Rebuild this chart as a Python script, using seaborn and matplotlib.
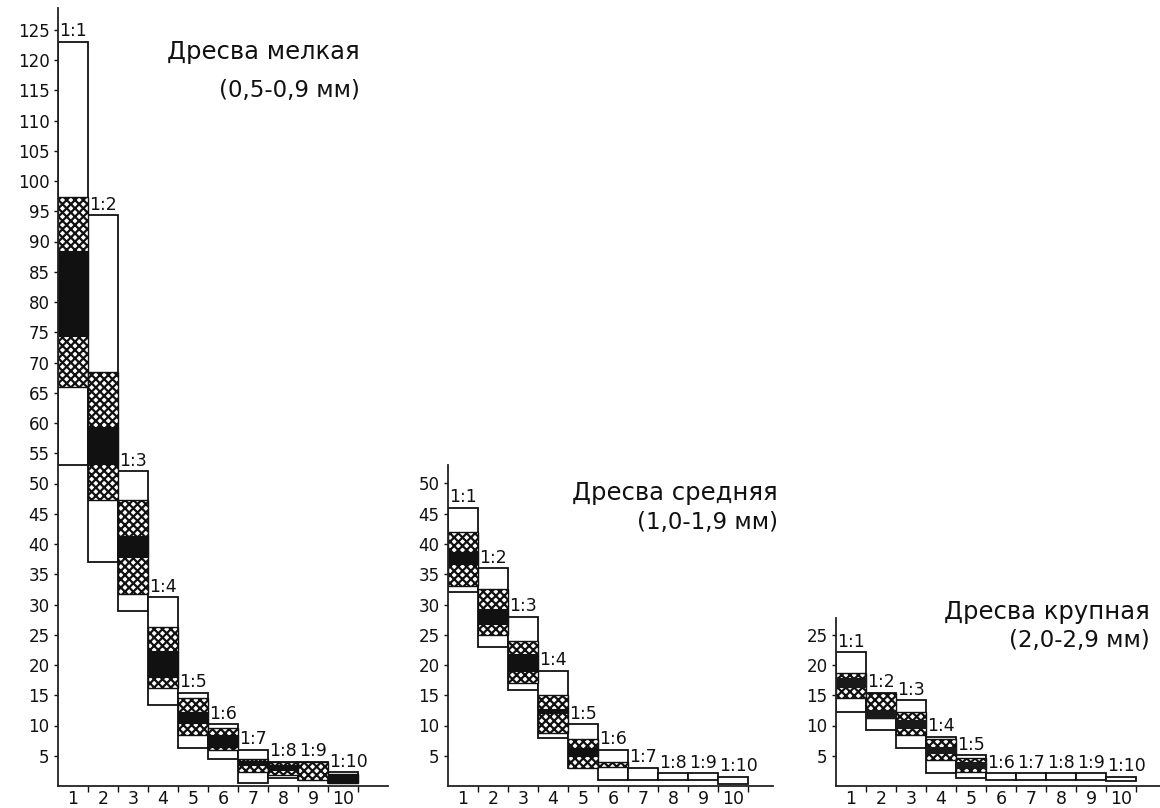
import matplotlib
matplotlib.use("Agg")
import matplotlib.pyplot as plt
import seaborn as sns
import numpy as np

sns.set_theme(style="ticks")
plt.rcParams['font.family'] = ['DejaVu Sans']
plt.rcParams['hatch.linewidth'] = 1.6

CATS = [str(i) for i in range(1, 11)]
RATIOS = ["1:%d" % i for i in range(1, 11)]

# ---- Дресва мелкая (0,5-0,9 мм)
fine_outer_lo = [53, 37, 29, 13.4, 6.3, 4.5, 0.5, 1.3, 1.0, 0.5]
fine_outer_hi = [123, 94.3, 52, 31.2, 15.4, 10.2, 6.0, 4.0, 4.0, 2.3]
fine_hatch_lo = [66, 47.3, 31.8, 16.2, 8.4, 5.9, 2.3, 1.8, 1.0, 0.5]
fine_hatch_hi = [97.3, 68.4, 47.2, 26.3, 14.5, 9.6, 4.5, 4.0, 4.0, 2.0]
fine_black_lo = [74.4, 53.2, 37.8, 18.0, 10.4, 6.4, 3.5, 2.6, None, 0.5]
fine_black_hi = [88.5, 59.3, 41.3, 22.3, 12.2, 8.4, 4.2, 3.5, None, 1.8]

# ---- Дресва средняя (1,0-1,9 мм)
med_outer_lo = [32, 23, 15.8, 7.9, 3.0, 1.0, 1.0, 1.0, 1.0, 0.3]
med_outer_hi = [46, 36, 28, 19, 10.2, 6.0, 3.0, 2.1, 2.1, 1.5]
med_hatch_lo = [33.1, 24.9, 17.0, 8.7, 3.0, 3.1, None, None, None, None]
med_hatch_hi = [42.0, 32.6, 23.9, 15.0, 7.7, 4.0, None, None, None, None]
med_black_lo = [36.7, 26.7, 19.0, 12.0, 5.0, None, None, None, None, None]
med_black_hi = [38.7, 29.3, 21.9, 12.8, 6.3, None, None, None, None, None]

# ---- Дресва крупная (2,0-2,9 мм)
coarse_outer_lo = [12.2, 9.3, 6.3, 2.1, 1.3, 1.0, 1.0, 1.0, 1.0, 0.8]
coarse_outer_hi = [22.1, 15.4, 14.2, 8.1, 5.1, 2.1, 2.1, 2.1, 2.1, 1.5]
coarse_hatch_lo = [14.5, 11.2, 8.4, 4.3, 2.3, None, None, None, None, None]
coarse_hatch_hi = [18.7, 15.4, 12.2, 7.8, 4.6, None, None, None, None, None]
coarse_black_lo = [16.4, 11.2, 9.6, 5.5, 3.0, None, None, None, None, None]
coarse_black_hi = [17.8, 12.6, 10.9, 6.5, 4.0, None, None, None, None, None]

TITLES = [("Дресва мелкая", "(0,5-0,9 мм)"),
          ("Дресва средняя", "(1,0-1,9 мм)"),
          ("Дресва крупная", "(2,0-2,9 мм)")]

W, H = 1160, 808
fig = plt.figure(figsize=(W / 100, H / 100), dpi=100)
fig.patch.set_facecolor("white")

PXU = 6.05  # pixels per unit (shared y scale)
BOTTOM_PX = 786
BAR_PX = 30.0


def make_ax(left_px, right_px, top_px):
    ax = fig.add_axes([left_px / W, 1 - BOTTOM_PX / H,
                       (right_px - left_px) / W, (BOTTOM_PX - top_px) / H])
    return ax


def layer(ax, lo, hi, **kw):
    idx = [i for i in range(10) if lo[i] is not None]
    cats = [CATS[i] for i in idx]
    heights = [hi[i] - lo[i] for i in idx]
    bottoms = [lo[i] for i in idx]
    sns.barplot(x=cats, y=heights, order=CATS, bottom=bottoms, width=1.0,
                errorbar=None, saturation=1, ax=ax, **kw)


panels = [
    (58, 388, 8, 125, fine_outer_lo, fine_outer_hi, fine_hatch_lo, fine_hatch_hi,
     fine_black_lo, fine_black_hi, (360, 52, 90)),
    (448, 773, 465, 50, med_outer_lo, med_outer_hi, med_hatch_lo, med_hatch_hi,
     med_black_lo, med_black_hi, (778, 493, 522)),
    (836, 1160, 618, 25, coarse_outer_lo, coarse_outer_hi, coarse_hatch_lo, coarse_hatch_hi,
     coarse_black_lo, coarse_black_hi, (1150, 612, 641)),
]

for k, (lpx, rpx, tpx, ymax_tick, olo, ohi, hlo, hhi, blo, bhi, tpos) in enumerate(panels):
    ax = make_ax(lpx, rpx, tpx)
    ax.set_facecolor("none")
    layer(ax, olo, ohi, color="white", edgecolor="#111111", linewidth=1.3)
    layer(ax, hlo, hhi, color="white", edgecolor="#111111", linewidth=1.0, hatch="xxxx")
    dark = "#111111" if k < 2 else "#1a1a1a"
    layer(ax, blo, bhi, color=dark, edgecolor=dark, linewidth=0.8)

    ax.set_xlim(-0.5, -0.5 + (rpx - lpx) / BAR_PX)
    ax.set_ylim(0, (BOTTOM_PX - tpx) / PXU)
    ax.set_xlabel("")
    ax.set_ylabel("")
    ax.set_xticks(range(10))
    ax.set_xticklabels(CATS)
    ax.set_xticks(np.arange(0.5, 10.0, 1.0), minor=True)
    ax.set_yticks(np.arange(5, ymax_tick + 1, 5))
    ax.tick_params(axis="x", which="major", length=0, labelsize=12.5, pad=3, colors="#111111")
    ax.tick_params(axis="x", which="minor", length=4, width=1, direction="out", colors="#111111")
    ax.tick_params(axis="y", which="major", length=3, width=1, direction="out",
                   labelsize=12, pad=3, colors="#111111")
    for s in ("top", "right"):
        ax.spines[s].set_visible(False)
    for s in ("left", "bottom"):
        ax.spines[s].set_linewidth(1.3)
        ax.spines[s].set_color("#222222")
    ax.grid(False)

    for i in range(10):
        ax.annotate(RATIOS[i], xy=(i - 0.5, ohi[i]), xytext=(1, 4),
                    textcoords="offset points", ha="left", va="baseline",
                    fontsize=12.5, color="#111111", annotation_clip=False)

    xr, y1, y2 = tpos
    fig.text(xr / W, 1 - y1 / H, TITLES[k][0], ha="right", va="center",
             fontsize=17.5, color="#111111")
    fig.text(xr / W, 1 - y2 / H, TITLES[k][1], ha="right", va="center",
             fontsize=16.5, color="#111111")

fig.savefig("out.png", dpi=100, facecolor="white")
